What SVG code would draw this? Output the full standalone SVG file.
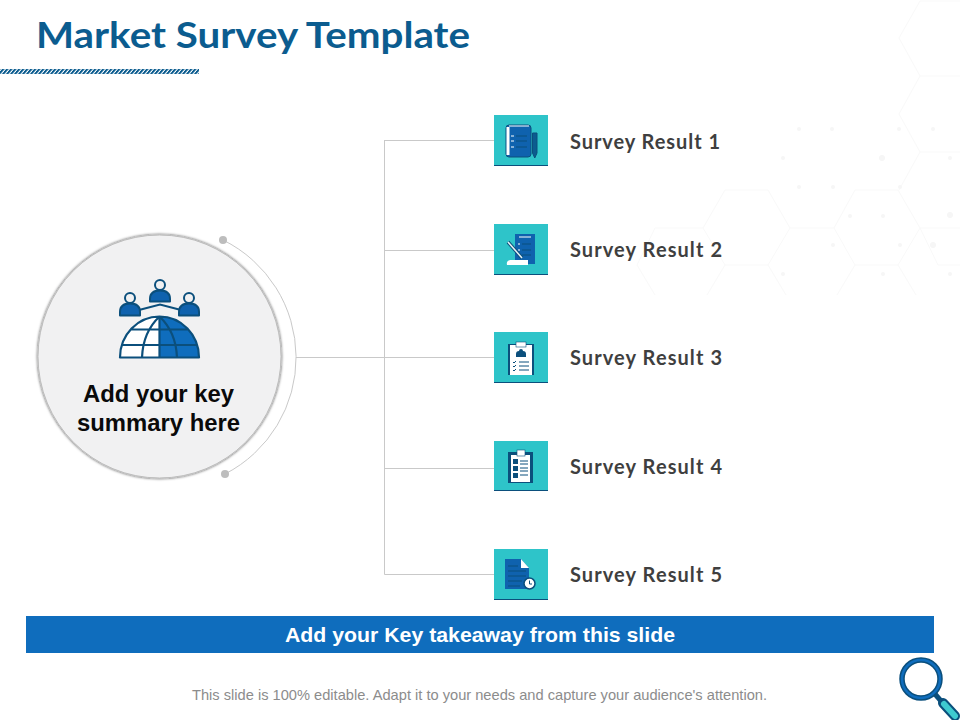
<svg xmlns="http://www.w3.org/2000/svg" width="960" height="720" viewBox="0 0 960 720">
<style>
.hex{fill:none;stroke:#f9f9f9;stroke-width:1}
.dot{fill:#f6f6f6}
.conn{fill:none;stroke:#c9c9c9;stroke-width:1}
.tile{fill:#2ec4c9}
.base{stroke:#0b4f7c;stroke-width:1;fill:none}
.blue{fill:#0f62ae}
.navy{fill:#0b4f7c}
.wht{fill:#fff}
.ln{stroke:#fff;stroke-width:1;fill:none}
.dln{stroke:#0b4f7c;stroke-width:1;fill:none}
.lbl{font-family:"Lato","Open Sans","Liberation Sans",sans-serif;font-weight:700;font-size:20px;fill:#3f3f3f}
.gl{fill:none;stroke:#0b4f7c;stroke-width:2.200;stroke-linejoin:round}
.bold{font-family:"Liberation Sans",Arial,sans-serif;font-weight:700}
</style>
<defs>
<pattern id="hatch" width="4" height="5" patternUnits="userSpaceOnUse" patternTransform="skewX(-40)"><rect width="2.600" height="5" fill="#0b5c8f"/></pattern>
<filter id="sh" x="-10%" y="-10%" width="120%" height="120%"><feDropShadow dx="0" dy="0" stdDeviation="1.800" flood-color="#000" flood-opacity=".75"/></filter>
</defs>
<rect width="960" height="720" fill="#fff"/>
<g id="background">
<path class="hex" d="M960 1H920L899 38L920 76H960M920 76L899 114L920 152H960M920 152L899 190M725 190H768L790 228L768 265H725L703 228ZM855 190H898L920 228L898 265H855L834 228ZM790 228H834M920 228H960M703 228H655L637 265L655 295M725 265L707 295M768 265L786 295M855 265L837 295M898 265L916 295M920 228L938 265H960"/>
<g class="dot"><circle cx="799" cy="129" r="2"/><circle cx="832" cy="129" r="2"/><circle cx="899" cy="129" r="2"/><circle cx="933" cy="129" r="2"/><circle cx="783" cy="158" r="2"/><circle cx="882" cy="158" r="3"/><circle cx="950" cy="158" r="2"/><circle cx="799" cy="187" r="2"/><circle cx="833" cy="187" r="2"/><circle cx="900" cy="187" r="2"/><circle cx="950" cy="215" r="3"/><circle cx="850" cy="216" r="2"/><circle cx="883" cy="216" r="2"/><circle cx="833" cy="245" r="2"/><circle cx="900" cy="245" r="2"/><circle cx="933" cy="245" r="3"/><circle cx="783" cy="274" r="2"/><circle cx="883" cy="274" r="2"/><circle cx="950" cy="274" r="2"/></g>
</g>
<g id="title">
<text x="36" y="48" textLength="434" lengthAdjust="spacingAndGlyphs" font-family="Lato,'Open Sans','Liberation Sans',sans-serif" font-weight="700" font-size="37" fill="#0b5c8f">Market Survey Template</text>
<rect x="0" y="69" width="199" height="5" fill="url(#hatch)"/>
</g>
<g id="connectors">
<path class="conn" d="M296 357.500H385M384.500 140V574.500M384.500 140.500H494M384.500 250.500H494M384.500 357.500H494M384.500 468.500H494M384.500 574.500H494"/>
<path class="conn" d="M223 240A131 131 0 0 1 225 474"/>
<circle cx="223" cy="240" r="4" fill="#bdbdbd"/>
<circle cx="225" cy="474" r="4" fill="#bdbdbd"/>
</g>
<g id="summary">
<circle cx="159.500" cy="356.500" r="121.500" fill="#f1f1f2" stroke="#bdbdbd" stroke-width="1" filter="url(#sh)"/>
<g id="globe-icon">
<path d="M139 310L160 304.500L181 310" stroke="#0b4f7c" stroke-width="2" fill="none"/>
<g stroke="#0b4f7c" stroke-width="2">
<circle cx="130" cy="298" r="5" fill="#f1f1f2"/><path class="blue" d="M120 315.500V312Q120 303.500 130 303.500Q140 303.500 140 312V315.500Z" stroke-linejoin="round"/>
<circle cx="160" cy="285" r="5" fill="#f1f1f2"/><path class="blue" d="M150 301.500V299Q150 290.500 160 290.500Q170 290.500 170 299V301.500Z" stroke-linejoin="round"/>
<circle cx="189" cy="298" r="5" fill="#f1f1f2"/><path class="blue" d="M179 315.500V312Q179 303.500 189 303.500Q199 303.500 199 312V315.500Z" stroke-linejoin="round"/>
</g>
<path d="M120 357.500A39.500 41 0 0 1 159.500 316.500V357.500Z" fill="#fff"/>
<path d="M159.500 316.500A39.500 41 0 0 1 199 357.500H159.500Z" fill="#0f6dbd"/>
<path class="gl" d="M120 357.500A39.500 41 0 0 1 199 357.500ZM159.500 316.500V357.500M159.500 316.500Q143 332 142 357.500M159.500 316.500Q176 332 177 357.500M131 329.500H188M122 345H197"/>
</g>
<text class="bold" x="158.500" y="402" textLength="151" lengthAdjust="spacingAndGlyphs" text-anchor="middle" font-size="23.500" fill="#0a0a0a">Add your key</text>
<text class="bold" x="158.500" y="431" textLength="163" lengthAdjust="spacingAndGlyphs" text-anchor="middle" font-size="23.500" fill="#0a0a0a">summary here</text>
</g>
<g id="result1">
<rect class="tile" x="494" y="115" width="54" height="50"/><path class="base" d="M494 165.500H548"/>
<rect class="blue" x="506" y="125" width="25" height="32" rx="3" stroke="#0b4f7c"/><rect class="wht" x="506.500" y="127" width="3" height="28"/><path class="ln" d="M509 126H529"/>
<path class="dln" stroke-width=".8" d="M516 136H527M516 141H527M516 147H527"/><path class="ln" d="M511 136h3M511 141h3M511 147h3"/>
<path d="M532.500 133h4.500v20l-2.250 5l-2.250-5z" fill="#0b5c8f" stroke="#0b4f7c"/>
<text class="lbl" x="570" y="149" textLength="150">Survey Result 1</text>
</g>
<g id="result2">
<rect class="tile" x="494" y="224" width="54" height="50"/><path class="base" d="M494 274.500H548"/>
<path class="blue" d="M515 234H535V264H515Z"/><path class="ln" d="M519 237H531"/>
<path class="dln" stroke-width=".8" d="M522 244H531M522 250H531M522 255H531"/><path class="ln" d="M518 244h2M518 250h2M518 255h2"/>
<path d="M508 242L522 258" stroke="#0b4f7c" stroke-width="3.500"/><path d="M508 242L522 258" stroke="#e8f2f5" stroke-width="1.500"/>
<path class="wht" d="M510 260H528V265H507Q506 261 510 260Z"/>
<text class="lbl" x="570" y="257" textLength="152">Survey Result 2</text>
</g>
<g id="result3">
<rect class="tile" x="494" y="332" width="54" height="50"/><path class="base" d="M494 382.500H548"/>
<rect class="navy" x="508" y="344" width="26" height="31"/>
<rect class="wht" x="510" y="345" width="22" height="30"/>
<rect class="wht" x="516" y="342" width="10" height="5" stroke="#0b4f7c" stroke-width=".6"/>
<path class="navy" d="M516 357v-3q0-3 3-3q0-2 2-2t2 2q3 0 3 3v3z"/>
<path class="dln" d="M519 362H529M519 366H529M519 370H529M513 362l1 1l2-2M513 366l1 1l2-2M513 370l1 1l2-2"/>
<text class="lbl" x="570" y="365" textLength="152">Survey Result 3</text>
</g>
<g id="result4">
<rect class="tile" x="494" y="441" width="54" height="49"/><path class="base" d="M494 490.500H548"/>
<rect class="navy" x="508" y="452" width="25" height="31"/>
<rect class="wht" x="511" y="455" width="19" height="27"/>
<rect class="wht" x="517" y="450" width="8" height="6" stroke="#0b4f7c" stroke-width=".6"/>
<path class="navy" d="M513 459h5v5h-5zM513 466h5v5h-5zM513 473h5v5h-5z"/>
<path class="dln" d="M520 461H528M520 464H528M520 468H528M520 471H528M520 475H528"/>
<text class="lbl" x="570" y="474" textLength="152">Survey Result 4</text>
</g>
<g id="result5">
<rect class="tile" x="494" y="549" width="54" height="50"/><path class="base" d="M494 599.500H548"/>
<path class="blue" d="M505 559H521L529 568V589H505Z"/>
<path class="wht" d="M521 559L529 568H521Z"/>
<path class="dln" stroke-width=".8" d="M508 566H518M508 571H526M508 576H526M508 581H522M508 586H520"/>
<circle cx="529.500" cy="583.500" r="5.500" fill="#fff" stroke="#0b4f7c" stroke-width="1.500"/>
<path class="dln" d="M529.500 580.500V584H532"/>
<text class="lbl" x="570" y="582" textLength="152">Survey Result 5</text>
</g>
<g id="takeaway">
<rect x="26" y="616" width="908" height="37" fill="#0f6dbd"/>
<text class="bold" x="480" y="642" textLength="390" lengthAdjust="spacingAndGlyphs" text-anchor="middle" font-size="20.500" fill="#fff">Add your Key takeaway from this slide</text>
</g>
<text id="footer" x="479.500" y="700" textLength="575" lengthAdjust="spacingAndGlyphs" text-anchor="middle" font-family="'Liberation Sans',Arial,sans-serif" font-size="14.500" fill="#8c8c8c">This slide is 100% editable. Adapt it to your needs and capture your audience's attention.</text>
<g id="magnifier">
<path d="M935 694L941 701" stroke="#0b4f7c" stroke-width="5"/>
<path d="M943 703L955 716" stroke="#0b4f7c" stroke-width="10" stroke-linecap="round"/>
<path d="M944 704L955 716" stroke="#3ecad0" stroke-width="6" stroke-linecap="round"/>
<circle cx="921" cy="679" r="19" fill="#fff" stroke="#0b4f7c" stroke-width="5.500"/>
<circle cx="921" cy="679" r="19" fill="none" stroke="#0f6dbd" stroke-width="2.500"/>
</g>
</svg>
